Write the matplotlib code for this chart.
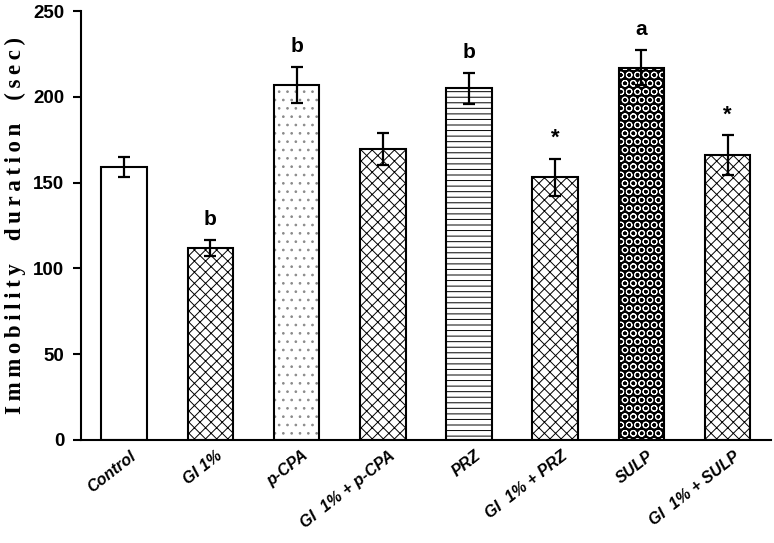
import matplotlib
matplotlib.use("Agg")
import matplotlib.pyplot as plt
import matplotlib.transforms as mtransforms
from matplotlib import font_manager as fm
import numpy as np

categories = ["Control", "GI 1%", "p-CPA", "GI  1% + p-CPA", "PRZ", "GI  1% + PRZ", "SULP", "GI  1% + SULP"]
means = [159, 112, 207, 169.5, 205, 153, 217, 166]
sems = [6, 4.5, 10.5, 9.5, 9, 11, 10, 11.5]
marks = ["", "b", "b", "", "b", "*", "a", "*"]
hatches = [None, "xxx", "..", "xxx", "---", "xxx", "OO", "xxx"]
ylabel_words = ["Immobility", "duration", "(sec)"]

names = {f.name for f in fm.fontManager.ttflist}
narrow = "Liberation Sans Narrow" if "Liberation Sans Narrow" in names else "Liberation Sans"

plt.rcParams['hatch.linewidth'] = 0.7
fig = plt.figure(figsize=(7.74, 5.43), dpi=100)
ax = fig.add_axes([0.1047, 0.1897, 0.891, 0.79])
x = np.arange(len(categories))
w = 0.53
for i in range(len(categories)):
    if categories[i] == "SULP":
        ax.bar(x[i], means[i], w, color="black", hatch=hatches[i], edgecolor="white", linewidth=0, zorder=2)
        ax.bar(x[i], means[i], w, fill=False, edgecolor="black", linewidth=1.5, zorder=3)
    elif categories[i] == "p-CPA":
        ax.bar(x[i], means[i], w, color="white", hatch=hatches[i], edgecolor="#8a8a8a", linewidth=0, zorder=2)
        ax.bar(x[i], means[i], w, fill=False, edgecolor="black", linewidth=1.5, zorder=3)
    else:
        ax.bar(x[i], means[i], w, color="white", hatch=hatches[i], edgecolor="black", linewidth=1.5, zorder=2)
ax.errorbar(x, means, yerr=sems, fmt="none", ecolor="black", elinewidth=1.6, capsize=4, capthick=1.6, zorder=4)
for i in range(len(categories)):
    if marks[i]:
        ax.text(x[i], means[i] + sems[i] + 12, marks[i], ha="center", va="center",
                fontsize=15 if marks[i] != "*" else 16, fontweight="bold", family=narrow)

ax.set_xlim(-0.5, 7.5)
ax.set_ylim(0, 250)
ax.set_yticks([0, 50, 100, 150, 200, 250])
ax.spines["top"].set_visible(False)
ax.spines["right"].set_visible(False)
ax.spines["left"].set_linewidth(1.5)
ax.spines["bottom"].set_linewidth(1.5)
ax.tick_params(axis="y", direction="out", length=6, width=1.5, labelsize=13.5, pad=6)
ax.tick_params(axis="x", length=0, pad=6)
for t in ax.get_yticklabels():
    t.set_family(narrow)
    t.set_fontweight("bold")
ax.set_xticks(x)
ax.set_xticklabels(categories, rotation=38, ha="right", rotation_mode="anchor",
                   fontsize=11.5, fontweight="bold", fontstyle="italic", family="Liberation Sans")
offset = mtransforms.ScaledTranslation(4 / 72, 0, fig.dpi_scale_trans)
for t in ax.get_xticklabels():
    t.set_transform(t.get_transform() + offset)

label = "    ".join("\u2009".join(list(wd)) for wd in ylabel_words)
fig.text(15 / 774, 1 - 226 / 543, label, rotation=90, ha="center", va="center",
         family=["Liberation Serif", "DejaVu Serif"], fontweight="bold", fontsize=16.5)
fig.savefig("out.png", dpi=100)
